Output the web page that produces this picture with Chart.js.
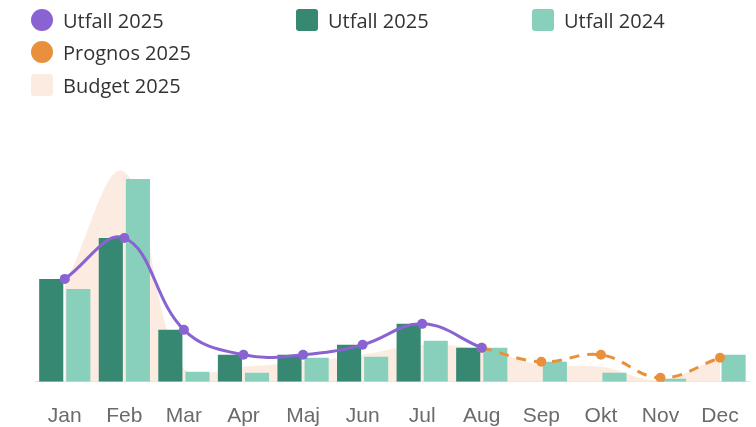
<!DOCTYPE html>
<html>
<head>
<meta charset="utf-8">
<script src="https://cdn.jsdelivr.net/npm/chart.js@4.4.1/dist/chart.umd.min.js"></script>
<style>
    html, body { margin: 0; padding: 0; background: #ffffff; overflow: hidden; }
    #wrap { position: relative; width: 756px; height: 427px; overflow: hidden; }
    #chart { position: absolute; left: 0; top: 0; }
    #legend { position: absolute; left: 0; top: 0; width: 756px; height: 110px;
              font-family: 'Open Sans', sans-serif; font-size: 20px; color: #333; }
    .item { position: absolute; display: flex; align-items: center; height: 22px; white-space: nowrap; }
    .marker { width: 22px; height: 22px; margin-right: 10px; border-radius: 3px; }
    .marker.circle { border-radius: 50%; }
</style>
</head>
<body>
<div id="wrap">
    <!-- a bit wider/taller than the page so the plot area lands where the original's does -->
    <canvas id="chart" width="761" height="452"></canvas>
    <div id="legend"></div>
</div>
<script>
// Months on the x axis
const months = ['Jan', 'Feb', 'Mar', 'Apr', 'Maj', 'Jun', 'Jul', 'Aug', 'Sep', 'Okt', 'Nov', 'Dec'];

// Values (same unit for all series)
const utfall2025 = [10.3, 14.4, 5.2, 2.7, 2.7, 3.7, 5.8, 3.4, null, null, null, null];
const utfall2024 = [9.3, 20.3, 1.0, 0.9, 2.4, 2.5, 4.1, 3.4, 2.0, 0.9, 0.3, 2.7];
const prognos2025 = [null, null, null, null, null, null, null, 3.4, 2.0, 2.7, 0.4, 2.4];
const budget2025 = [9.7, 21.0, 1.3, 1.5, 2.0, 2.7, 3.7, 3.2, 1.7, 1.5, 0.2, 2.5];

const yMax = 24;

const colors = {
    purple: '#8a63d2',
    orange: '#e8903c',
    dark: '#368872',
    light: '#88d0bb',
    peach: '#fcebe0'
};

const ctx = document.getElementById('chart');

const chart = new Chart(ctx, {
    type: 'bar',
    data: {
        labels: months,
        datasets: [
            {
                type: 'line',
                label: 'Utfall 2025',
                data: utfall2025,
                borderColor: colors.purple,
                backgroundColor: colors.purple,
                borderWidth: 3,
                pointRadius: 5,
                pointBackgroundColor: colors.purple,
                pointBorderWidth: 0,
                tension: 0.4,
                order: 0,
                legendShape: 'circle'
            },
            {
                label: 'Utfall 2025',
                data: utfall2025,
                backgroundColor: colors.dark,
                categoryPercentage: 0.91,
                barPercentage: 0.89,
                order: 2
            },
            {
                label: 'Utfall 2024',
                data: utfall2024,
                backgroundColor: colors.light,
                categoryPercentage: 0.91,
                barPercentage: 0.89,
                order: 2
            },
            {
                type: 'line',
                label: 'Prognos 2025',
                data: prognos2025,
                borderColor: colors.orange,
                backgroundColor: colors.orange,
                borderWidth: 3,
                borderDash: [10, 8],
                pointRadius: 5,
                pointBackgroundColor: colors.orange,
                pointBorderWidth: 0,
                tension: 0.4,
                order: 1,
                legendShape: 'circle'
            },
            {
                type: 'line',
                label: 'Budget 2025',
                data: budget2025,
                borderColor: 'rgba(0,0,0,0)',
                backgroundColor: colors.peach,
                borderWidth: 0,
                pointRadius: 0,
                fill: 'origin',
                tension: 0.4,
                order: 3
            }
        ]
    },
    options: {
        responsive: false,
        animation: false,
        layout: {
            padding: { left: 35, right: 7, top: 142, bottom: 1 }
        },
        plugins: {
            legend: { display: false },
            tooltip: { enabled: true }
        },
        scales: {
            x: {
                grid: { display: false, drawTicks: false },
                border: { display: true, color: '#e2e2e2', width: 1 },
                ticks: {
                    color: '#6b6b6b',
                    font: { family: "'Liberation Sans', Arial, sans-serif", size: 21 },
                    padding: 22
                }
            },
            y: {
                display: false,
                min: 0,
                max: yMax
            }
        }
    }
});

// HTML legend laid out in three columns like the original
const legendSlots = [
    { left: 31, top: 9 },
    { left: 296, top: 9 },
    { left: 532, top: 9 },
    { left: 31, top: 41 },
    { left: 31, top: 74 }
];
const legendEl = document.getElementById('legend');
chart.data.datasets.forEach((ds, i) => {
    const item = document.createElement('div');
    item.className = 'item';
    item.style.left = legendSlots[i].left + 'px';
    item.style.top = legendSlots[i].top + 'px';
    const marker = document.createElement('span');
    marker.className = 'marker' + (ds.legendShape === 'circle' ? ' circle' : '');
    marker.style.background = ds.backgroundColor;
    const text = document.createElement('span');
    text.textContent = ds.label;
    item.appendChild(marker);
    item.appendChild(text);
    legendEl.appendChild(item);
});
</script>
</body>
</html>
